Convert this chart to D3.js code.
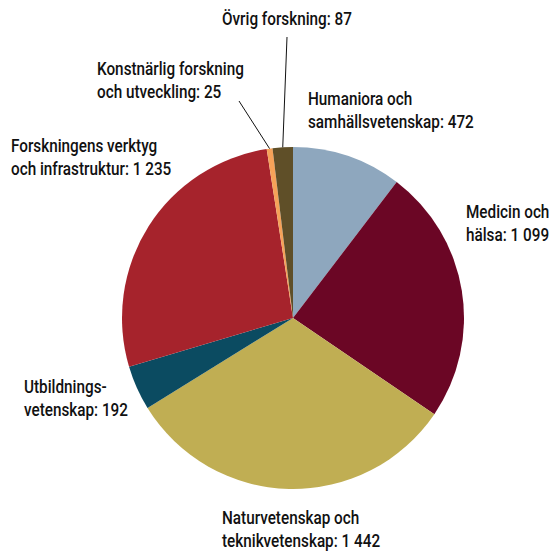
<!DOCTYPE html>
<html lang="sv">
<head>
<meta charset="UTF-8">
<title>Fördelning per område</title>
<script src="https://d3js.org/d3.v7.min.js"></script>
<style>
  body { margin: 0; background: #fff; }
  svg text { font-family: Roboto, "DejaVu Sans Condensed", sans-serif; font-size: 17.5px; font-weight: 500; fill: #111; }
</style>
</head>
<body>
<svg width="553" height="551"></svg>
<script>
// data
const categories = [
  "Humaniora och samhällsvetenskap",
  "Medicin och hälsa",
  "Naturvetenskap och teknikvetenskap",
  "Utbildningsvetenskap",
  "Forskningens verktyg och infrastruktur",
  "Konstnärlig forskning och utveckling",
  "Övrig forskning"
];
const values = [472, 1099, 1442, 192, 1235, 25, 87];
const labelLines = [
  ["Humaniora och", "samhällsvetenskap: 472"],
  ["Medicin och", "hälsa: 1 099"],
  ["Naturvetenskap och", "teknikvetenskap: 1 442"],
  ["Utbildnings-", "vetenskap: 192"],
  ["Forskningens verktyg", "och infrastruktur: 1 235"],
  ["Konstnärlig forskning", "och utveckling: 25"],
  ["Övrig forskning: 87"]
];
const colors = ["#8ea7be", "#6b0625", "#c0ae53", "#0b4b61", "#a6232c", "#f6a259", "#5f4f28"];

// label layout (left x, first baseline y), leader end points
const labelPos = [[308, 105], [466, 218], [222, 524], [24, 393], [11, 152], [97, 75], [222, 25]];
const leaders = { 5: [239, 101], 6: [287, 37] };

const cx = 293, cy = 318, r = 171;
const svg = d3.select("svg");
const g = svg.append("g").attr("transform", `translate(${cx},${cy})`);

const pie = d3.pie().sort(null).value(d => d.v);
const arcs = pie(values.map((v, i) => ({ v, i })));
const arc = d3.arc().innerRadius(0).outerRadius(r);
const color = d3.scaleOrdinal().domain(categories).range(colors);

g.selectAll("path.slice")
  .data(arcs)
  .enter()
  .append("path")
  .attr("class", "slice")
  .attr("d", arc)
  .attr("fill", d => color(categories[d.data.i]));

// leader lines
Object.keys(leaders).forEach(k => {
  const a = arcs[+k];
  const mid = (a.startAngle + a.endAngle) / 2;
  const x1 = cx + Math.sin(mid) * r, y1 = cy - Math.cos(mid) * r;
  svg.append("line")
    .attr("x1", x1).attr("y1", y1)
    .attr("x2", leaders[k][0]).attr("y2", leaders[k][1])
    .attr("stroke", "#111").attr("stroke-width", 1);
});

// the original font is condensed; squeeze horizontally to match
const probe = svg.append("text").text("Övrig forskning: 87");
const k = 130 / probe.node().getComputedTextLength();
probe.remove();

labelLines.forEach((lines, i) => {
  const t = svg.append("text")
    .attr("transform", `translate(${labelPos[i][0]},${labelPos[i][1]}) scale(${k},1)`);
  lines.forEach((s, j) => {
    t.append("tspan")
      .attr("x", 0)
      .attr("y", j * 23.5)
      .text(s);
  });
});
</script>
</body>
</html>
